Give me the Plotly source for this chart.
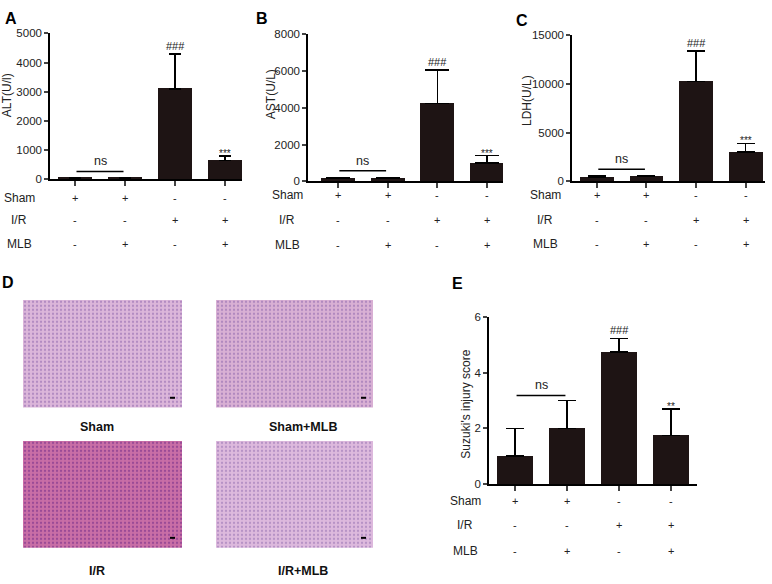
import plotly.graph_objects as go

W, H = 772, 584
FONT = "Liberation Sans, Arial, sans-serif"
BAR = "#1e1414"

groups = ["Sham", "Sham+MLB", "I/R", "I/R+MLB"]
row_names = ["Sham", "I/R", "MLB"]
row_signs = [["+", "+", "-", "-"],
             ["-", "-", "+", "+"],
             ["-", "+", "-", "+"]]

alt_mean = [50, 50, 3100, 650]
alt_top = [70, 65, 4300, 800]
ast_mean = [150, 150, 4250, 1000]
ast_top = [190, 180, 6050, 1400]
ldh_mean = [450, 500, 10250, 3000]
ldh_top = [620, 600, 13400, 3900]
suz_mean = [1.0, 2.0, 4.75, 1.75]
suz_top = [2.0, 3.0, 5.25, 2.7]

alt_ns, ast_ns, ldh_ns, suz_ns = 270, 570, 1240, 3.19
marks = ["###", "***", "###", "***", "###", "***", "###", "**"]

d_labels = ["Sham", "Sham+MLB", "I/R", "I/R+MLB"]
d_colors = ["#dcb6da", "#d9b0d4", "#c96ea6", "#ddb9dd"]
d_dots = ["#b28ac2", "#b088bf", "#9a4a96", "#b692c6"]


def fx(p):
    return p / W


def fy(p):
    return 1 - p / H


def label(x, y, text, size, color="#222", **kw):
    d = dict(x=x, y=y, xref="paper", yref="paper", text=text, showarrow=False,
             xanchor="center", yanchor="middle",
             font=dict(family=FONT, size=size, color=color))
    d.update(kw)
    return d


panels = [
    dict(letter="A", title="ALT(U/l)", m=alt_mean, t=alt_top, ns=alt_ns,
         xd=(50, 242), yd=(28, 177), xr=[-0.5, 3.34], yr=[0, 5000], dt=1000,
         cap=6, rows=(196, 218, 243), lx=19, tx=7, ty=91, lp=(11, 13)),
    dict(letter="B", title="AST(U/L)", m=ast_mean, t=ast_top, ns=ast_ns,
         xd=(308, 503), yd=(29, 179), xr=[-0.6, 3.32], yr=[0, 8000], dt=2000,
         cap=12, rows=(193, 218, 244), lx=287, tx=271, ty=90, lp=(262, 13)),
    dict(letter="C", title="LDH(U/L)", m=ldh_mean, t=ldh_top, ns=ldh_ns,
         xd=(572, 765), yd=(30, 179), xr=[-0.5, 3.39], yr=[0, 15000], dt=5000,
         cap=9, rows=(193, 218, 243), lx=545, tx=527, ty=97, lp=(522, 15)),
    dict(letter="E", title="Suzuki's injury score", m=suz_mean, t=suz_top, ns=suz_ns,
         xd=(489, 697), yd=(318, 488), xr=[-0.5, 3.5], yr=[0, 6], dt=2,
         cap=9, rows=(505, 530, 556), lx=465, tx=466, ty=407, lp=(457, 283)),
]

fig = go.Figure()
annotations = []
shapes = []

for i, p in enumerate(panels):
    n = "" if i == 0 else str(i + 1)
    xa, ya = "x" + n, "y" + n
    fig.add_trace(go.Bar(
        x=[0, 1, 2, 3], y=p["m"], xaxis=xa, yaxis=ya, width=0.68,
        marker=dict(color=BAR, line=dict(width=0)),
        error_y=dict(type="data", symmetric=False,
                     array=[t - m for t, m in zip(p["t"], p["m"])],
                     arrayminus=[0, 0, 0, 0], color="black",
                     thickness=1.5, width=p["cap"]),
        hovertext=groups, showlegend=False))
    fig.layout["xaxis" + n] = dict(
        domain=[fx(p["xd"][0]), fx(p["xd"][1])], range=p["xr"], anchor=ya,
        tickvals=[0, 1, 2, 3], showticklabels=False, ticks="outside",
        ticklen=5, tickwidth=1.5, showline=True, linecolor="black",
        linewidth=1.5, showgrid=False, zeroline=False, fixedrange=True)
    fig.layout["yaxis" + n] = dict(
        domain=[fy(p["yd"][1]), fy(p["yd"][0])], range=p["yr"], anchor=xa,
        dtick=p["dt"], tickformat="d", ticks="outside", ticklen=4, tickwidth=1.5,
        showline=True, linecolor="black", linewidth=1.5, showgrid=False,
        zeroline=False, tickfont=dict(family=FONT, size=11.5, color="#222"),
        fixedrange=True)

    # significance marks
    for j, k in ((2, 0), (3, 1)):
        txt = marks[2 * i + k]
        star = "*" in txt
        annotations.append(dict(
            x=j, y=p["t"][j], xref=xa, yref=ya, text=txt, showarrow=False,
            xanchor="center", yanchor="bottom", yshift=-5 if star else 0,
            font=dict(family=FONT, size=10 if star else 11, color="#222")))
    # ns bracket
    shapes.append(dict(type="line", xref=xa, yref=ya, x0=0.03, x1=0.97,
                       y0=p["ns"], y1=p["ns"], line=dict(color="black", width=1.5)))
    annotations.append(dict(x=0.5, y=p["ns"], xref=xa, yref=ya, text="ns",
                            showarrow=False, xanchor="center", yanchor="bottom",
                            yshift=1, font=dict(family=FONT, size=12.5, color="#222")))
    # condition rows
    for r, name in enumerate(row_names):
        yy = fy(p["rows"][r])
        annotations.append(label(fx(p["lx"]), yy, name, 12))
        for j, s in enumerate(row_signs[r]):
            annotations.append(dict(x=j, y=yy, xref=xa, yref="paper", text=s,
                                    showarrow=False, xanchor="center",
                                    yanchor="middle",
                                    font=dict(family=FONT, size=11, color="#222")))
    annotations.append(label(fx(p["tx"]), fy(p["ty"]), p["title"], 12,
                             textangle=-90))
    annotations.append(label(fx(p["lp"][0]), fy(p["lp"][1]),
                             "<b>%s</b>" % p["letter"], 16, "black"))

# panel D: histology placeholders, dotted fill to hint at the tissue texture
annotations.append(label(fx(8), fy(282), "<b>D</b>", 16, "black"))
boxes = [(23, 300, 182, 410), (216, 300, 373, 410),
         (23, 444, 182, 553), (216, 444, 373, 553)]
label_pos = [(97, 430), (303, 430), (97, 577), (303, 577)]
for k, ((x0, y0, x1, y1), col, dot, lab, (lxp, lyp)) in enumerate(
        zip(boxes, d_colors, d_dots, d_labels, label_pos)):
    n = str(k + 5)
    fig.add_trace(go.Bar(
        x=[0], y=[1], width=1, xaxis="x" + n, yaxis="y" + n, showlegend=False,
        hovertext=[lab], hoverinfo="text",
        marker=dict(color=col, line=dict(width=0),
                    pattern=dict(shape=".", fgcolor=dot, bgcolor=col,
                                 size=4, solidity=0.25, fillmode="replace"))))
    fig.layout["xaxis" + n] = dict(domain=[fx(x0), fx(x1)], range=[-0.5, 0.5],
                                   visible=False, anchor="y" + n, fixedrange=True)
    fig.layout["yaxis" + n] = dict(domain=[fy(y1), fy(y0)], range=[0, 1],
                                   visible=False, anchor="x" + n, fixedrange=True)
    shapes.append(dict(type="line", xref="paper", yref="paper",
                       x0=fx(x1 - 12), x1=fx(x1 - 7), y0=fy(y1 - 10), y1=fy(y1 - 10),
                       line=dict(color="black", width=2)))
    annotations.append(label(fx(lxp), fy(lyp), "<b>%s</b>" % lab, 12.5, "#111"))

fig.update_layout(width=W, height=H, margin=dict(l=0, r=0, t=0, b=0),
                  paper_bgcolor="white", plot_bgcolor="white",
                  annotations=annotations, shapes=shapes, bargap=0)
fig.write_html("out.html", config={"displayModeBar": False},
               post_script="document.body.style.margin='0';")
